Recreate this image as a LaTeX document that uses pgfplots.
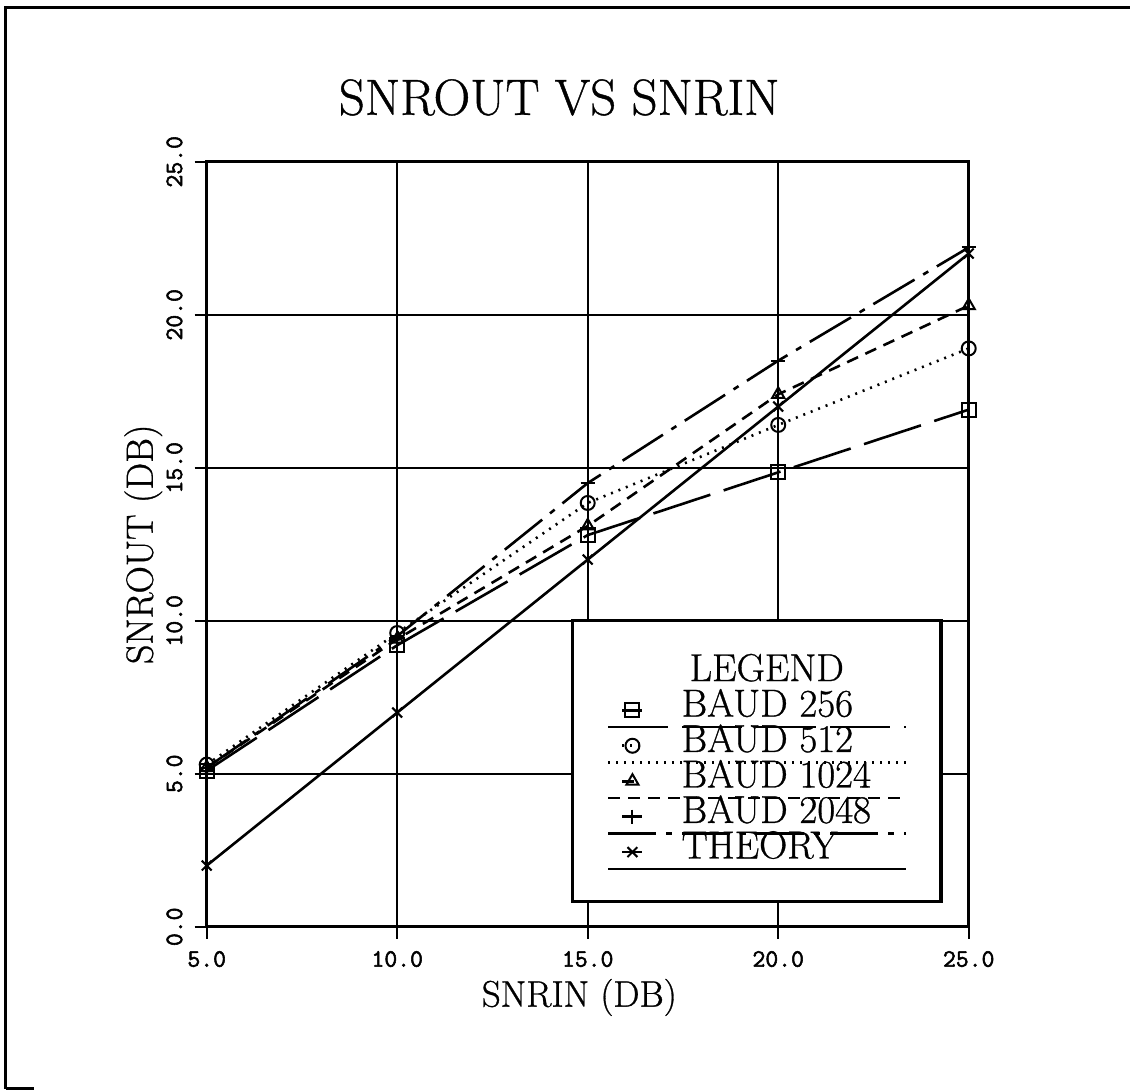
\documentclass[border=0pt]{standalone}
\usepackage{fontspec}
\setmainfont{Latin Modern Roman}[UprightFeatures={FakeBold=0.8}]
\newfontfamily\tickfont{Latin Modern Mono}[UprightFeatures={FakeBold=2.2}]
\usepackage{pgfplots}
\pgfplotsset{compat=1.18}
\begin{document}
\begin{tikzpicture}
\path (0,0) rectangle (565.5pt,546pt);
\draw[line width=1.5pt] (3pt,1pt) -- (3pt,542pt) -- (565.5pt,542pt);
\draw[line width=1.5pt] (3pt,1pt) -- (17pt,1pt);
\begin{axis}[
  at={(103.5pt,82pt)}, anchor=south west,
  scale only axis, width=381.5pt, height=383pt,
  xmin=5, xmax=25, ymin=0, ymax=25,
  xtick={5,10,15,20,25}, ytick={0,5,10,15,20,25},
  xtick pos=left, ytick pos=left,
  grid=major, grid style={black, line width=1pt, solid},
  axis line style={line width=1.6pt},
  tick align=outside, major tick length=6pt, tick style={black, line width=1pt},
  tick label style={font=\fontsize{12.5}{12.5}\selectfont\tickfont,
    /pgf/number format/fixed, /pgf/number format/fixed zerofill,
    /pgf/number format/precision=1, /pgf/number format/assume math mode=true},
  xticklabel style={/tikz/anchor=north, /tikz/inner sep=0pt},
  yticklabel style={/tikz/rotate=90, /tikz/anchor=south, /tikz/inner sep=0pt},
  xticklabel shift=6pt, yticklabel shift=6pt,
  title={SNROUT VS SNRIN},
  title style={at={(axis description cs:0.4626,1.0457)}, anchor=base, inner sep=0pt, font=\fontsize{25.5}{25.5}\selectfont},
  xlabel={SNRIN (DB)},
  xlabel style={at={(axis description cs:0.489,-0.1044)}, anchor=base, inner sep=0pt, font=\fontsize{18.5}{18.5}\selectfont},
  ylabel={SNROUT (DB)},
  ylabel style={at={(axis description cs:-0.0708,0.5)}, anchor=base, inner sep=0pt, font=\fontsize{19}{19}\selectfont},
  legend cell align=left,
  legend style={at={(axis description cs:0.5439,0.3525)}, anchor=north west, draw=none, fill=none,
    inner sep=0pt, outer sep=0pt, row sep=0pt, font=\fontsize{19.5}{19.5}\selectfont,
    nodes={inner sep=0pt, text height=12pt, text depth=5.75pt},
    /tikz/every odd column/.append style={column sep=19pt}},
  legend image code/.code={%
    \draw[overlay,#1,mark=none] (-12pt,-8.4pt) -- (137pt,-8.4pt);
    \path (-5pt,0pt) -- (5pt,0pt);
    \draw[#1, only marks] plot coordinates {(0pt,0pt)};},
  every axis plot/.append style={black, line width=1.3pt, mark size=3.5pt, mark options={solid, line width=1pt}},
]
\addlegendimage{empty legend}
\addlegendentry{\hspace*{4pt}LEGEND}
\addplot[dash pattern=on 30pt off 7pt, mark=square] coordinates {(5,5.1)(10,9.2)(15,12.8)(20,14.85)(25,16.9)};
\addlegendentry{BAUD 256}
\addplot[dash pattern=on 1pt off 3pt, mark=o] coordinates {(5,5.3)(10,9.6)(15,13.85)(20,16.4)(25,18.9)};
\addlegendentry{BAUD 512}
\addplot[dash pattern=on 6pt off 4pt, mark=triangle] coordinates {(5,5.2)(10,9.4)(15,13.1)(20,17.4)(25,20.3)};
\addlegendentry{BAUD 1024}
\addplot[dash pattern=on 24pt off 5pt on 3pt off 5pt, mark=+] coordinates {(5,5.2)(10,9.5)(15,14.5)(20,18.5)(25,22.2)};
\addlegendentry{BAUD 2048}
\addplot[solid, mark=x] coordinates {(5,2)(10,7)(15,12)(20,17)(25,22)};
\addlegendentry{THEORY}
\draw[line width=1.6pt, fill=white] (axis cs:14.6,0.82) rectangle (axis cs:24.27,10);
\end{axis}
\end{tikzpicture}
\end{document}
